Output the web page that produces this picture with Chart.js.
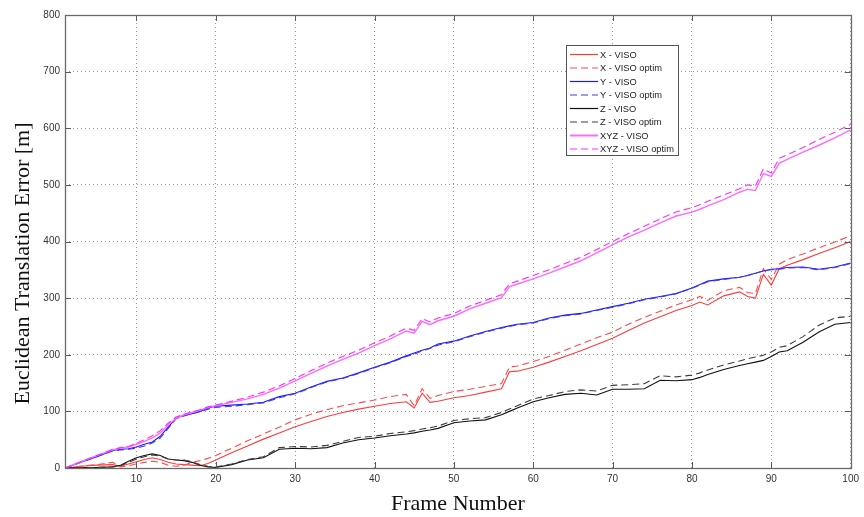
<!DOCTYPE html>
<html>
<head>
<meta charset="utf-8">
<script src="https://cdn.jsdelivr.net/npm/chart.js@4.4.1/dist/chart.umd.min.js"></script>
<style>
  html, body { margin: 0; padding: 0; background: #fff; }
  canvas { display: block; }
</style>
</head>
<body>
<canvas id="c" width="864" height="517"></canvas>
<script>
// Frame indices at which the error curves are sampled
const frames = [1,3,5,7, 8,9,10,11,12,13,14,15,16,17,18,19,20,
  22,24,26,28,30,32,34,36,38,40,42,44, 45,46,47,48, 50,52,54,56, 57,58,
  60,62,64,66,68,70,72,74,76,78,80, 81,82, 84,86, 87,88,89,90,91,92, 94,96,98,100];

// Translation error per axis [m]
const xViso  = [0,3,5,6, 3,7,11,15,18,15,10,7,6,5,4,8,14,
  27,39,51,62,73,82,91,98,104,109,114,117, 106,132,116,118, 124,128,134,140, 170,171,
  178,187,197,207,218,229,243,256,267,278,287, 293,288, 304,311, 303,300,342,323,352,358, 368,379,389,400];
const xOptim = [0,3,6,10, 2,4,7,10,12,10,5,3,5,10,13,17,22,
  35,48,60,72,85,95,103,110,115,120,126,130, 110,140,123,128, 135,139,144,149, 178,180,
  188,197,208,219,230,240,254,266,277,288,297, 303,296, 313,319, 310,308,352,333,360,368, 378,389,399,410];
const yViso  = [0,10,20,31, 33,34,37,42,46,56,72,88,93,96,100,106,109,
  111,113,116,126,132,143,153,159,168,178,187,198, 203,208,212,219, 224,233,241,248, 251,254,
  257,265,270,273,279,285,291,298,303,308,318, 324,330, 334,337, 340,344,348,351,352,354, 355,351,355,362];
const yOptim = [0,10,20,30, 32,33,35,39,44,53,70,87,92,96,99,104,107,
  109,112,115,124,131,142,152,158,167,177,186,197, 201,207,211,217, 223,232,240,247, 250,253,
  256,264,269,272,278,284,290,297,302,308,317, 323,329, 333,337, 340,344,348,350,351,353, 354,350,354,361];
const zViso  = [0,1,1,2, 5,12,18,22,25,22,16,14,13,10,5,2,1,
  6,14,18,33,35,34,36,44,50,53,57,60, 62,65,67,70, 80,83,85,94, 100,106,
  117,124,130,132,129,139,139,140,155,154,156, 160,165, 174,181, 184,187,190,197,205,207, 222,240,254,257];
const zOptim = [0,1,1,2, 4,10,16,20,23,21,16,14,14,11,6,3,2,
  7,15,20,36,38,37,40,47,54,56,61,64, 66,69,71,74, 84,87,89,98, 104,110,
  122,128,135,138,136,146,147,149,163,161,164, 168,173, 182,189, 193,196,199,205,213,216, 232,252,265,268];
const xyzViso  = [0,11,22,32, 35,37,42,47,53,62,76,88,94,98,102,107,110,
  116,122,130,141,154,167,180,192,203,216,228,242, 238,259,253,260, 268,281,291,301, 320,325,
  334,344,355,366,380,394,408,420,433,445,452, 457,463, 474,487, 492,490,520,515,538,545, 558,570,583,597];
const xyzOptim = [0,11,22,33, 36,38,44,50,57,66,79,90,95,99,103,108,111,
  118,125,134,145,158,172,185,197,208,221,233,247, 243,264,258,265, 273,286,296,306, 325,330,
  340,350,361,372,386,400,414,427,440,452,460, 465,471, 482,493, 500,498,528,521,547,553, 566,580,593,607];

const seriesLabels = ['X - VISO','X - VISO optim','Y - VISO','Y - VISO optim',
                      'Z - VISO','Z - VISO optim','XYZ - VISO','XYZ - VISO optim'];
const seriesValues = [xViso, xOptim, yViso, yOptim, zViso, zOptim, xyzViso, xyzOptim];

const xTicks = [10,20,30,40,50,60,70,80,90,100];
const yTicks = [0,100,200,300,400,500,600,700,800];

const xTitle = 'Frame Number';
const yTitle = 'Euclidean Translation Error [m]';

const styles = [
  { color: '#ff3b3b', dash: [],    width: 1.1 },
  { color: '#ff4a4a', dash: [7,4], width: 1.1 },
  { color: '#1a1aff', dash: [],    width: 1.1 },
  { color: '#3a3aff', dash: [7,4], width: 1.1 },
  { color: '#111111', dash: [],    width: 1.1 },
  { color: '#3c3c3c', dash: [7,4], width: 1.1 },
  { color: '#ff6aff', dash: [],    width: 1.4 },
  { color: '#ff2cff', dash: [7,4], width: 1.1 }
];

const datasets = seriesLabels.map((label, i) => ({
  label,
  data: frames.map((f, k) => ({ x: f, y: seriesValues[i][k] })),
  borderColor: styles[i].color,
  borderDash: styles[i].dash,
  borderWidth: styles[i].width,
  pointRadius: 0,
  tension: 0,
  fill: false,
  order: seriesLabels.length - i
}));

const titleFontCss = '22px "Liberation Serif", "Times New Roman", serif';

// Box frame with inward tick marks on all four sides, plus the vertical axis label
const axesFrame = {
  id: 'axesFrame',
  afterDatasetsDraw(chart) {
    const { ctx, chartArea: a, scales } = chart;
    ctx.save();
    ctx.strokeStyle = '#5a5a5a';
    ctx.lineWidth = 1;
    ctx.setLineDash([]);
    ctx.beginPath();
    const tl = 6;
    xTicks.forEach(v => {
      const px = Math.round(scales.x.getPixelForValue(v)) + 0.5;
      ctx.moveTo(px, a.bottom); ctx.lineTo(px, a.bottom - tl);
      ctx.moveTo(px, a.top); ctx.lineTo(px, a.top + tl);
    });
    yTicks.forEach(v => {
      const py = Math.round(scales.y.getPixelForValue(v)) + 0.5;
      ctx.moveTo(a.left, py); ctx.lineTo(a.left + tl, py);
      ctx.moveTo(a.right, py); ctx.lineTo(a.right - tl, py);
    });
    ctx.stroke();
    ctx.strokeStyle = '#6a6a6a';
    ctx.lineWidth = 1.3;
    ctx.strokeRect(Math.round(a.left) + 0.5, Math.round(a.top) + 0.5,
                   Math.round(a.right - a.left), Math.round(a.bottom - a.top));

    // vertical axis label, sitting a little below the axis midpoint
    ctx.translate(23, (a.top + a.bottom) / 2 + 22);
    ctx.rotate(-Math.PI / 2);
    ctx.font = titleFontCss;
    ctx.fillStyle = '#111';
    ctx.textAlign = 'center';
    ctx.textBaseline = 'middle';
    ctx.fillText(yTitle, 0, 0);
    ctx.restore();
  }
};

// Boxed legend placed inside the plot area
const boxLegend = {
  id: 'boxLegend',
  afterDraw(chart) {
    const { ctx } = chart;
    const x0 = 566, y0 = 45, w = 112, h = 110;
    ctx.save();
    ctx.fillStyle = '#ffffff';
    ctx.fillRect(x0, y0, w, h);
    ctx.strokeStyle = '#555555';
    ctx.lineWidth = 1;
    ctx.strokeRect(x0 + 0.5, y0 + 0.5, w, h);
    ctx.font = '9.3px "Liberation Sans", Arial, sans-serif';
    ctx.textBaseline = 'middle';
    ctx.textAlign = 'left';
    chart.data.datasets.forEach((ds, i) => {
      const y = y0 + 9 + i * 13.5;
      ctx.strokeStyle = ds.borderColor;
      ctx.lineWidth = i === 6 ? 2 : 1.2;
      ctx.setLineDash(ds.borderDash || []);
      ctx.beginPath();
      ctx.moveTo(x0 + 4, y + 0.5);
      ctx.lineTo(x0 + 32, y + 0.5);
      ctx.stroke();
      ctx.setLineDash([]);
      ctx.fillStyle = '#222';
      ctx.fillText(ds.label, x0 + 34, y + 1);
    });
    ctx.restore();
  }
};

const tickFont = { family: '"Liberation Sans", Arial, sans-serif', size: 10 };
const titleFont = { family: '"Liberation Serif", "Times New Roman", serif', size: 22 };

new Chart(document.getElementById('c'), {
  type: 'line',
  data: { datasets },
  options: {
    responsive: false,
    animation: false,
    devicePixelRatio: 1,
    layout: { padding: { top: 15, right: 7, left: 0, bottom: 0 } },
    plugins: { legend: { display: false }, tooltip: { enabled: false } },
    scales: {
      x: {
        type: 'linear',
        min: 1, max: 100,
        afterBuildTicks: s => { s.ticks = xTicks.map(v => ({ value: v })); },
        afterFit: s => { s.height = 49; },
        grid: { color: '#9a9a9a', lineWidth: 1, drawTicks: false },
        border: { display: false, dash: [1, 3] },
        ticks: { font: tickFont, color: '#333', padding: 5, maxRotation: 0 },
        title: { display: true, text: xTitle, font: titleFont, color: '#111', padding: { top: 0, bottom: 0 } }
      },
      y: {
        min: 0, max: 800,
        afterBuildTicks: s => { s.ticks = yTicks.map(v => ({ value: v })); },
        afterFit: s => { s.width = 65; },
        grid: { color: '#9a9a9a', lineWidth: 1, drawTicks: false },
        border: { display: false, dash: [1, 3] },
        ticks: { font: tickFont, color: '#333', padding: 5 }
      }
    }
  },
  plugins: [axesFrame, boxLegend]
});
</script>
</body>
</html>
